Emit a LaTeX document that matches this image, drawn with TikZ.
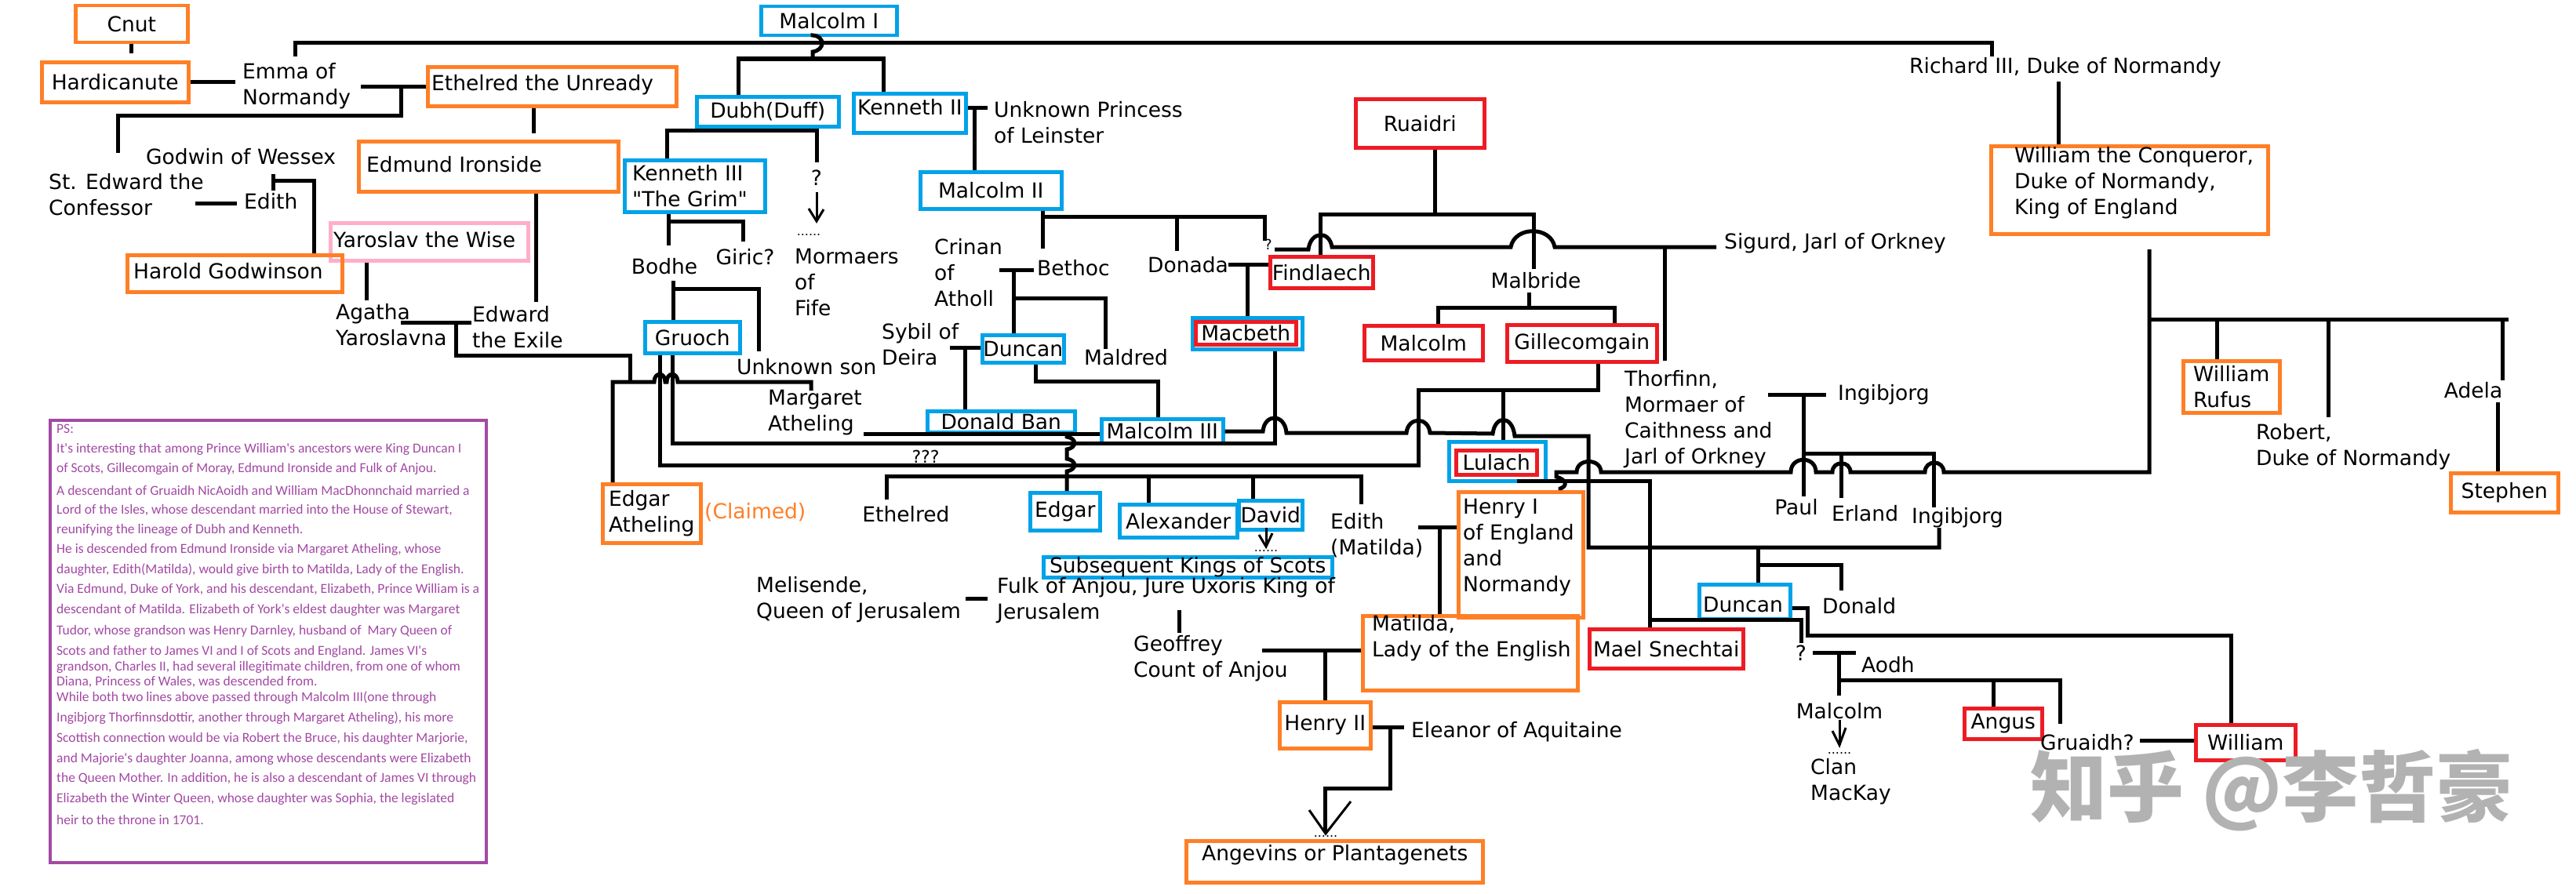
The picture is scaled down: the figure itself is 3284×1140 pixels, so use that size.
\documentclass[tikz,border=0pt]{standalone}
\usepackage{fontspec}
\setmainfont{DejaVu Sans}[Ligatures=TeXOff]
\newfontfamily\psfont{Carlito}[Ligatures=TeXOff]
\newfontfamily\cjkfont{Noto Sans CJK SC}
\usetikzlibrary{arrows.meta}
\definecolor{orgC}{HTML}{FF7F27}
\definecolor{bluC}{HTML}{00A2E8}
\definecolor{redC}{HTML}{ED1C24}
\definecolor{pinkC}{HTML}{FFAEC9}
\definecolor{purC}{HTML}{A349A4}
\newcommand{\mf}{\fontsize{26.5}{33}\selectfont}
\newcommand{\pf}{\psfont\fontsize{17.5}{20}\selectfont}
\begin{document}
\begin{tikzpicture}[x=1pt,y=-1pt,
  ln/.style={line width=5pt, line join=miter},
  thinln/.style={line width=3pt},
  bx/.style={draw, line width=4.5pt, inner sep=0pt, font=\mf, anchor=north west},
  ob/.style={bx, draw=orgC}, bb/.style={bx, draw=bluC}, rb/.style={bx, draw=redC}, pkb/.style={bx, draw=pinkC},
  tx/.style={inner sep=0pt, anchor=west, align=left, font=\mf},
  tc/.style={inner sep=0pt, align=center, font=\mf},
  pstx/.style={inner sep=0pt, anchor=west, font=\pf, text=purC},
  dotsty/.style={inner sep=0pt, font=\fontsize{16}{16}\selectfont}
]
\fill[white] (0,0) rectangle (3284,1140);
\useasboundingbox (0,0) rectangle (3284,1140);

% ---------- boxes with centred text ----------
\node[ob, minimum width=143pt, minimum height=47pt] (cnut) at (94,5) {Cnut};
\node[ob, minimum width=187pt, minimum height=51pt] (hardi) at (51,77) {Hardicanute};
\node[bb, minimum width=173pt, minimum height=37pt] (malc1) at (968,6) {Malcolm I};
\node[bb, minimum width=181pt, minimum height=38pt] (dubh) at (886,121) {Dubh(Duff)};
\node[bb, minimum width=180pt, minimum height=47pt] (malc2) at (1171,217) {Malcolm II};
\node[rb, minimum width=164pt, minimum height=62pt] (ruaidri) at (1726,124) {Ruaidri};
\node[rb, minimum width=131pt, minimum height=40pt] (findl) at (1617,325) {Findlaech};
\node[bb, minimum width=121pt, minimum height=40pt] (gruoch) at (820,408) {Gruoch};
\node[bb, minimum width=104pt, minimum height=35pt] (duncan1) at (1250,425) {Duncan};
\node[bb, minimum width=188pt, minimum height=27pt] (donban) at (1180,522) {Donald Ban};
\node[bb, minimum width=155pt, minimum height=31pt] (malc3) at (1402,532) {Malcolm III};
\node[rb, minimum width=151pt, minimum height=44pt] (malcm) at (1737,413) {Malcolm};
\node[rb, minimum width=191pt, minimum height=47pt] (gillec) at (1919,412) {Gillecomgain};
\node[bb, minimum width=89pt, minimum height=48pt] (edgar) at (1311,626) {Edgar};
\node[bb, minimum width=150pt, minimum height=42pt] (alex) at (1425,641) {Alexander};
\node[bb, minimum width=81pt, minimum height=37pt] (david) at (1577,636) {David};
\node[bb, minimum width=368pt, minimum height=26pt] (subseq) at (1328,708) {Subsequent Kings of Scots};
\node[rb, minimum width=196pt, minimum height=50pt] (maels) at (2024,800) {Mael Snechtai};
\node[ob, minimum width=116pt, minimum height=59pt] (henry2) at (1629,893) {Henry II};
\node[rb, minimum width=99pt, minimum height=39pt] (angus) at (2502,901) {Angus};
\node[rb, minimum width=127pt, minimum height=45pt] (william) at (2797,922) {William};
\node[ob, minimum width=123pt, minimum height=66pt, align=left] (rufus) at (2781,458) {William\\Rufus};
\node[ob, minimum width=137pt, minimum height=50pt] (stephen) at (3122,601) {Stephen};
\node[ob, minimum width=125pt, minimum height=75pt, align=left] (edgarA) at (766,615) {Edgar\\Atheling};
\node[bb, minimum width=123pt, minimum height=50pt] (lulachO) at (1845,561) {};
\node[rb, minimum width=103pt, minimum height=31pt] (lulach) at (1854,572) {Lulach};
\node[bb, minimum width=140pt, minimum height=40pt] (macbethO) at (1518,403) {};
\node[rb, minimum width=128pt, minimum height=29pt] (macbeth) at (1522,408) {Macbeth};

% ---------- boxes with text placed off-centre ----------
\node[bb, minimum width=143pt, minimum height=50pt] (ken2B) at (1086,117) {};
\node[tx] (ken2) at (1093,137) {Kenneth II};
\node[bb, minimum width=116pt, minimum height=44pt] (duncan2B) at (2164,743) {};
\node[tc] (duncan2) at (2222,771) {Duncan};
\node[ob, minimum width=317pt, minimum height=50pt] (ethelB) at (543,83) {};
\node[tx] (ethel) at (550,108) {Ethelred the Unready};
\node[ob, minimum width=331pt, minimum height=64pt] (edmundB) at (455,178) {};
\node[tx] (edmund) at (467,210) {Edmund Ironside};
\node[pkb, minimum width=252pt, minimum height=48pt] (yaroB) at (419,282) {};
\node[tx] (yaro) at (425,306) {Yaroslav the Wise};
\node[ob, minimum width=274pt, minimum height=47pt] (haroldB) at (160,323) {};
\node[tx] (harold) at (170,346) {Harold Godwinson};
\node[bb, minimum width=179pt, minimum height=66pt] (ken3B) at (794,202) {};
\node[tx] (ken3) at (806,237) {Kenneth III\\{\char34}The Grim{\char34}};
\node[ob, minimum width=159pt, minimum height=160pt] (henry1B) at (1857,625) {};
\node[tx] (henry1) at (1865,698) {Henry I\\of England\\and\\Normandy};
\node[ob, minimum width=274pt, minimum height=95pt] (matB) at (1735,783) {};
\node[tx] (mat) at (1749,814) {Matilda,\\Lady of the English};
\node[ob, minimum width=378pt, minimum height=53pt] (angB) at (1510,1070) {};
\node[tx] (ang) at (1532,1090) {Angevins or Plantagenets};
\node[ob, minimum width=353pt, minimum height=112pt] (wconqB) at (2536,184) {};
\node[tx] (wconq) at (2568,233) {William the Conqueror,\\Duke of Normandy,\\King of England};

% ---------- plain labels ----------
\node[tx] (emma) at (309,110) {Emma of\\Normandy};
\node[tx] (godwin) at (186,200) {Godwin of Wessex};
\node[tx] (confessor) at (62,248) {St. Edward the\\Confessor};
\node[tx] (edith) at (311,257) {Edith};
\node[tx] (agatha) at (428,414) {Agatha\\Yaroslavna};
\node[tx] (exile) at (602,417) {Edward\\the Exile};
\node[tx] (unkpr) at (1267,156) {Unknown Princess\\of Leinster};
\node[tc] (qdubh) at (1041,227) {?};
\node[dotsty] (fdots) at (1031,300) {......};
\node[tx] (mormaers) at (1013,360) {Mormaers\\of\\Fife};
\node[tc] (bodhe) at (847,340) {Bodhe};
\node[tc] (giric) at (950,328) {Giric?};
\node[tx] (crinan) at (1191,348) {Crinan\\of\\Atholl};
\node[tx] (bethoc) at (1322,342) {Bethoc};
\node[tx] (donada) at (1463,338) {Donada};
\node[inner sep=0pt, font=\fontsize{18}{18}\selectfont] (qmal) at (1617,312) {?};
\node[tc] (malbride) at (1958,358) {Malbride};
\node[tx] (sigurd) at (2198,310) {Sigurd, Jarl of Orkney};
\node[tx] (richard) at (2434,86) {Richard III, Duke of Normandy};
\node[tx] (sybil) at (1124,439) {Sybil of\\Deira};
\node[tx] (maldred) at (1382,456) {Maldred};
\node[tx] (unkson) at (939,468) {Unknown son};
\node[tx] (margaret) at (979,526) {Margaret\\Atheling};
\node[tx, text=orgC] (claimed) at (898,653) {(Claimed)};
\node[inner sep=0pt, font=\fontsize{22}{22}\selectfont] (qqq) at (1180,582) {???};
\node[tc] (ethelred2) at (1155,656) {Ethelred};
\node[tx] (edith2) at (1696,683) {Edith\\(Matilda)};
\node[tx] (melis) at (964,765) {Melisende,\\Queen of Jerusalem};
\node[tx] (fulk) at (1271,766) {Fulk of Anjou, Jure Uxoris King of\\Jerusalem};
\node[tx] (geoff) at (1445,840) {Geoffrey\\Count of Anjou};
\node[tx] (eleanor) at (1799,933) {Eleanor of Aquitaine};
\node[tx] (thorfinn) at (2071,535) {Thorfinn,\\Mormaer of\\Caithness and\\Jarl of Orkney};
\node[tx] (ingib1) at (2343,503) {Ingibjorg};
\node[tc] (paul) at (2290,647) {Paul};
\node[tx] (erland) at (2335,655) {Erland};
\node[tx] (ingib2) at (2437,660) {Ingibjorg};
\node[tx] (donald) at (2323,773) {Donald};
\node[tc] (qlul) at (2296,833) {?};
\node[tx] (aodh) at (2373,848) {Aodh};
\node[tc] (malcmh) at (2345,907) {Malcolm};
\node[dotsty] (mdots) at (2345,960) {......};
\node[tx] (clan) at (2308,997) {Clan\\MacKay};
\node[tx] (gruaidh) at (2601,947) {Gruaidh?};
\node[tx] (robert) at (2876,570) {Robert,\\Duke of Normandy};
\node[tc] (adela) at (3153,498) {Adela};
\node[dotsty] (ddots) at (1614,702) {......};
\node[dotsty] (adots) at (1690,1066) {......};
\node[inner sep=0pt, text=black!30, font=\cjkfont\bfseries\fontsize{98}{98}\selectfont] (wm) at (2896,1008) {知乎 @李哲豪};

% ---------- PS box ----------
\node[bx, draw=purC, line width=4pt, minimum width=556pt, minimum height=564pt] (psB) at (62,534) {};
\node[pstx] (ps1) at (72,547) {PS:};
\node[pstx] (ps2) at (72,573) {It's interesting that among Prince William's ancestors were King Duncan I};
\node[pstx] (ps3) at (72,598) {of Scots, Gillecomgain of Moray, Edmund Ironside and Fulk of Anjou.};
\node[pstx] (ps4) at (72,625) {A descendant of Gruaidh NicAoidh and William MacDhonnchaid married a};
\node[pstx] (ps5) at (72,651) {Lord of the Isles, whose descendant married into the House of Stewart,};
\node[pstx] (ps6) at (72,676) {reunifying the lineage of Dubh and Kenneth.};
\node[pstx] (ps7) at (72,701) {He is descended from Edmund Ironside via Margaret Atheling, whose};
\node[pstx] (ps8) at (72,727) {daughter, Edith(Matilda), would give birth to Matilda, Lady of the English.};
\node[pstx] (ps9) at (72,752) {Via Edmund, Duke of York, and his descendant, Elizabeth, Prince William is a};
\node[pstx] (ps10) at (72,778) {descendant of Matilda. Elizabeth of York's eldest daughter was Margaret};
\node[pstx] (ps11) at (72,805) {Tudor, whose grandson was Henry Darnley, husband of \ Mary Queen of};
\node[pstx] (ps12) at (72,831) {Scots and father to James VI and I of Scots and England. James VI's};
\node[pstx] (ps13) at (72,851) {grandson, Charles II, had several illegitimate children, from one of whom};
\node[pstx] (ps14) at (72,870) {Diana, Princess of Wales, was descended from.};
\node[pstx] (ps15) at (72,890) {While both two lines above passed through Malcolm III(one through};
\node[pstx] (ps16) at (72,916) {Ingibjorg Thorfinnsdottir, another through Margaret Atheling), his more};
\node[pstx] (ps17) at (72,942) {Scottish connection would be via Robert the Bruce, his daughter Marjorie,};
\node[pstx] (ps18) at (72,968) {and Majorie's daughter Joanna, among whose descendants were Elizabeth};
\node[pstx] (ps19) at (72,993) {the Queen Mother. In addition, he is also a descendant of James VI through};
\node[pstx] (ps20) at (72,1019) {Elizabeth the Winter Queen, whose daughter was Sophia, the legislated};
\node[pstx] (ps21) at (72,1045) {heir to the throne in 1701.};

% ---------- connectors ----------
\draw[ln] (167,0 |- cnut.south) -- (167,68);
\draw[ln] (hardi.east) -- (300,0 |- hardi.east);
\draw[ln] (460,0 |- ethelB.west) -- (ethelB.west);
\draw[ln] (511,109) -- (511,147) -- (150,147) -- (150,195);
\draw[ln] (376,72) -- (376,55) -- (2539,55) -- (2539,72);
\draw[ln] (1036,0 |- malc1.south) -- (1036,45) .. controls (1052,46) and (1052,64) .. (1036,66) -- (1036,75);
\draw[ln] (941,0 |- dubh.north) -- (941,75) -- (1126,75) -- (1126,0 |- ken2B.north);
\draw[ln] (680,0 |- ethelB.south) -- (680,170);
\draw[ln] (683,0 |- edmundB.south) -- (683,385);
\draw[ln] (348,222) -- (348,243);
\draw[ln] (348,230) -- (400,230) -- (400,0 |- haroldB.north);
\draw[ln] (249,259) -- (302,259);
\draw[ln] (467,0 |- yaroB.south) -- (467,383);
\draw[ln] (511,411) -- (601,411);
\draw[ln] (581,411) -- (581,453) -- (803,453) -- (803,487);
\draw[ln] (781,0 |- edgarA.north) -- (781,487) -- (834,487) .. controls (834,474) and (848,474) .. (848,487) -- (850,487) .. controls (850,474) and (864,474) .. (864,487) -- (1034,487) -- (1034,498);
\draw[ln] (942,0 |- dubh.south) -- (942,166);
\draw[ln] (850,0 |- ken3B.north) -- (850,166) -- (1041,166) -- (1041,207);
\draw[thinln] (1041,245) -- (1041,282);
\draw[thinln] (1031,266) -- (1041,282) -- (1050,267);
\draw[ln] (ken2B.east |- 0,137) -- (1259,137);
\draw[ln] (1242,137) -- (1242,0 |- malc2.north);
\draw[ln] (852,0 |- ken3B.south) -- (852,282) -- (947,282) -- (947,308);
\draw[ln] (852,282) -- (852,313);
\draw[ln] (858,358) -- (858,0 |- gruoch.north);
\draw[ln] (858,368) -- (967,368) -- (967,448);
\draw[ln] (1329,0 |- malc2.south) -- (1329,276);
\draw[ln] (1329,317) -- (1329,276) -- (1612,276) -- (1612,307);
\draw[ln] (1500,276) -- (1500,320);
\draw[ln] (1274,344) -- (1318,344);
\draw[ln] (1292,344) -- (1292,0 |- duncan1.north);
\draw[ln] (1292,380) -- (1409,380) -- (1409,445);
\draw[ln] (1566,337) -- (findl.west |- 0,337);
\draw[ln] (1590,337) -- (1590,0 |- macbethO.north);
\draw[ln] (1625,318) -- (1668,318) .. controls (1671,294) and (1695,294) .. (1698,315) -- (1926,315) .. controls (1931,288) and (1977,288) .. (1982,315) -- (2188,315);
\draw[ln] (2122,315) -- (2122,460);
\draw[ln] (1829,0 |- ruaidri.south) -- (1829,273);
\draw[ln] (1683,0 |- findl.north) -- (1683,273) -- (1955,273) -- (1955,343);
\draw[ln] (1949,373) -- (1949,392);
\draw[ln] (1833,0 |- malcm.north) -- (1833,392) -- (2058,392) -- (2058,0 |- gillec.north);
\draw[ln] (2037,0 |- gillec.south) -- (2037,497) -- (1808,497) -- (1808,593) -- (841,593) -- (841,0 |- gruoch.south);
\draw[ln] (1916,497) -- (1916,0 |- lulachO.north);
\draw[ln] (857,0 |- gruoch.south) -- (857,565) -- (1625,565) -- (1625,0 |- macbethO.south);
\draw[ln] (1211,443) -- (duncan1.west |- 0,443);
\draw[ln] (1230,443) -- (1230,0 |- donban.north);
\draw[ln] (1320,0 |- duncan1.south) -- (1320,486) -- (1476,486) -- (1476,0 |- malc3.north);
\draw[ln] (1101,553) -- (malc3.west |- 0,553);
\draw[ln] (1360,553) -- (1360,557) .. controls (1373,559) and (1373,571) .. (1360,573) -- (1360,585) .. controls (1373,587) and (1373,599) .. (1360,601) -- (1360,0 |- edgar.north);
\draw[ln] (1130,637) -- (1130,607) -- (1735,607) -- (1735,643);
\draw[ln] (1464,607) -- (1464,0 |- alex.north);
\draw[ln] (1597,607) -- (1597,0 |- david.north);
\draw[thinln] (1614,673) -- (1614,697);
\draw[thinln] (1605,682) -- (1614,697) -- (1622,680);
\draw[ln] (malc3.east |- 0,550) -- (1610,550) .. controls (1612,527) and (1638,527) .. (1640,552) -- (1793,552) .. controls (1795,531) and (1821,531) .. (1823,552) -- (1903,553) .. controls (1906,529) and (1928,529) .. (1931,556) -- (2025,556) -- (2025,698) -- (2472,698) -- (2472,673);
\draw[ln] (2241,698) -- (2241,720) -- (2347,720) -- (2347,753);
\draw[ln] (2241,720) -- (2241,0 |- duncan2B.north);
\draw[ln] (2254,503) -- (2328,503);
\draw[ln] (2299,503) -- (2299,633);
\draw[ln] (2299,578) -- (2465,578) -- (2465,647);
\draw[ln] (2347,578) -- (2347,635);
\draw[ln] (2624,104) -- (2624,0 |- wconqB.north);
\draw[ln] (2740,318) -- (2740,602) -- (2478,602) .. controls (2478,586) and (2454,586) .. (2454,602) -- (2359,602) .. controls (2359,587) and (2336,587) .. (2336,602) -- (2315,602) .. controls (2315,581) and (2283,581) .. (2283,602) -- (2041,602) .. controls (2041,584) and (2010,584) .. (2010,602) -- (1984,602) -- (1984,608) .. controls (1998,612) and (1998,620) .. (1989,623) -- (1989,0 |- henry1B.north);
\draw[ln] (2740,407) -- (3198,407);
\draw[ln] (2826,407) -- (2826,0 |- rufus.north);
\draw[ln] (2968,407) -- (2968,532);
\draw[ln] (3190,407) -- (3190,485);
\draw[ln] (3184,513) -- (3184,0 |- stephen.north);
\draw[ln] (1934,613) -- (2103,613) -- (2103,0 |- maels.north);
\draw[ln] (2103,790) -- (2296,790) -- (2296,820);
\draw[ln] (duncan2B.east |- 0,775) -- (2304,775) -- (2304,810) -- (2844,810) -- (2844,0 |- william.north);
\draw[ln] (2311,832) -- (2366,832);
\draw[ln] (2344,832) -- (2344,887);
\draw[ln] (2344,867) -- (2626,867) -- (2626,923);
\draw[ln] (2541,867) -- (2541,0 |- angus.north);
\draw[thinln] (2345,918) -- (2345,950);
\draw[thinln] (2336,932) -- (2345,950) -- (2353,928);
\draw[ln] (2728,944) -- (william.west |- 0,944);
\draw[ln] (1808,672) -- (henry1B.west |- 0,672);
\draw[ln] (1835,672) -- (1835,0 |- matB.north);
\draw[ln] (1231,763) -- (1259,763);
\draw[ln] (1503,778) -- (1503,807);
\draw[ln] (1609,829) -- (matB.west |- 0,829);
\draw[ln] (1689,829) -- (1689,0 |- henry2.north);
\draw[ln] (henry2.east |- 0,927) -- (1790,927);
\draw[ln] (1772,927) -- (1772,1005) -- (1689,1005) -- (1689,1060);
\draw[thinln] (1669,1033) -- (1690,1063) -- (1722,1022);
\end{tikzpicture}
\end{document}
